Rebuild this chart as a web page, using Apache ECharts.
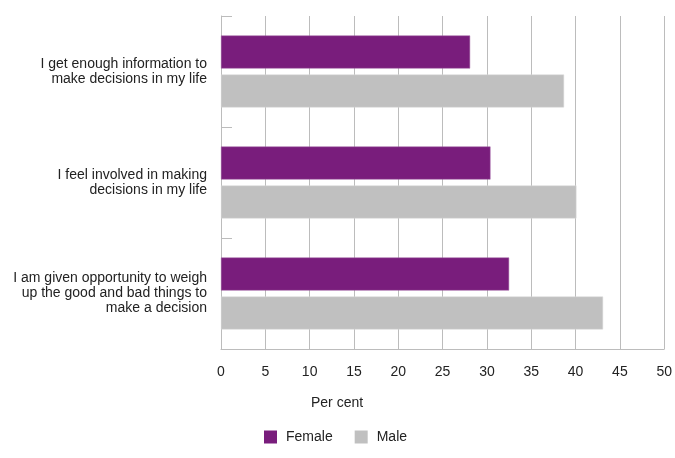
<!DOCTYPE html>
<html>
<head>
<meta charset="utf-8">
<script src="https://cdn.jsdelivr.net/npm/echarts@6/dist/echarts.min.js"></script>
<style>html,body{margin:0;padding:0;background:#fff}#c{width:675px;height:458px}</style>
</head>
<body>
<div id="c"></div>
<script>
var categories = [
  "I get enough information to\nmake decisions in my life",
  "I feel involved in making\ndecisions in my life",
  "I am given opportunity to weigh\nup the good and bad things to\nmake a decision"
];
var female = [28.1, 30.4, 32.5];
var male = [38.7, 40.1, 43.1];
var xTicks = [0, 50, 5];

var chart = echarts.init(document.getElementById('c'));
var font = "'Liberation Sans', Arial, sans-serif";
chart.setOption({
  animation: false,
  textStyle: {fontFamily: font},
  grid: {left: 221, right: 10, top: 16, bottom: 109},
  xAxis: {
    type: 'value', min: xTicks[0], max: xTicks[1], interval: xTicks[2],
    axisLine: {show: true, lineStyle: {color: '#bcbcbc'}}, axisTick: {show: false},
    splitLine: {lineStyle: {color: '#bcbcbc', width: 1}},
    axisLabel: {color: '#222', fontSize: 14, margin: 16, fontFamily: font}
  },
  yAxis: {
    type: 'category', data: categories, inverse: true,
    axisLine: {show: true, lineStyle: {color: '#bcbcbc'}},
    axisTick: {show: true, inside: true, length: 11, lineStyle: {color: '#bcbcbc'}},
    axisLabel: {color: '#222', fontSize: 14, lineHeight: 15, margin: 14, align: 'right', fontFamily: font}
  },
  legend: {
    left: 264, top: 430, padding: 0, itemWidth: 13, itemHeight: 13, itemGap: 22,
    icon: 'rect',
    itemStyle: {borderWidth: 0},
    textStyle: {color: '#222', fontSize: 14, fontFamily: font, padding: [0, 0, 0, 4]},
    data: ['Female', 'Male']
  },
  graphic: [{
    type: 'text', left: 311, top: 396,
    style: {text: 'Per cent', fill: '#222', font: '14px ' + font}
  }],
  series: [
    {name: 'Female', type: 'bar', data: female, barWidth: 33, barGap: '18%',
     itemStyle: {color: '#791d7c', borderColor: '#a060a2', borderWidth: 0.5}},
    {name: 'Male', type: 'bar', data: male, barWidth: 33,
     itemStyle: {color: '#c0c0c0', borderColor: '#dadada', borderWidth: 0.5}}
  ]
});
</script>
</body>
</html>
